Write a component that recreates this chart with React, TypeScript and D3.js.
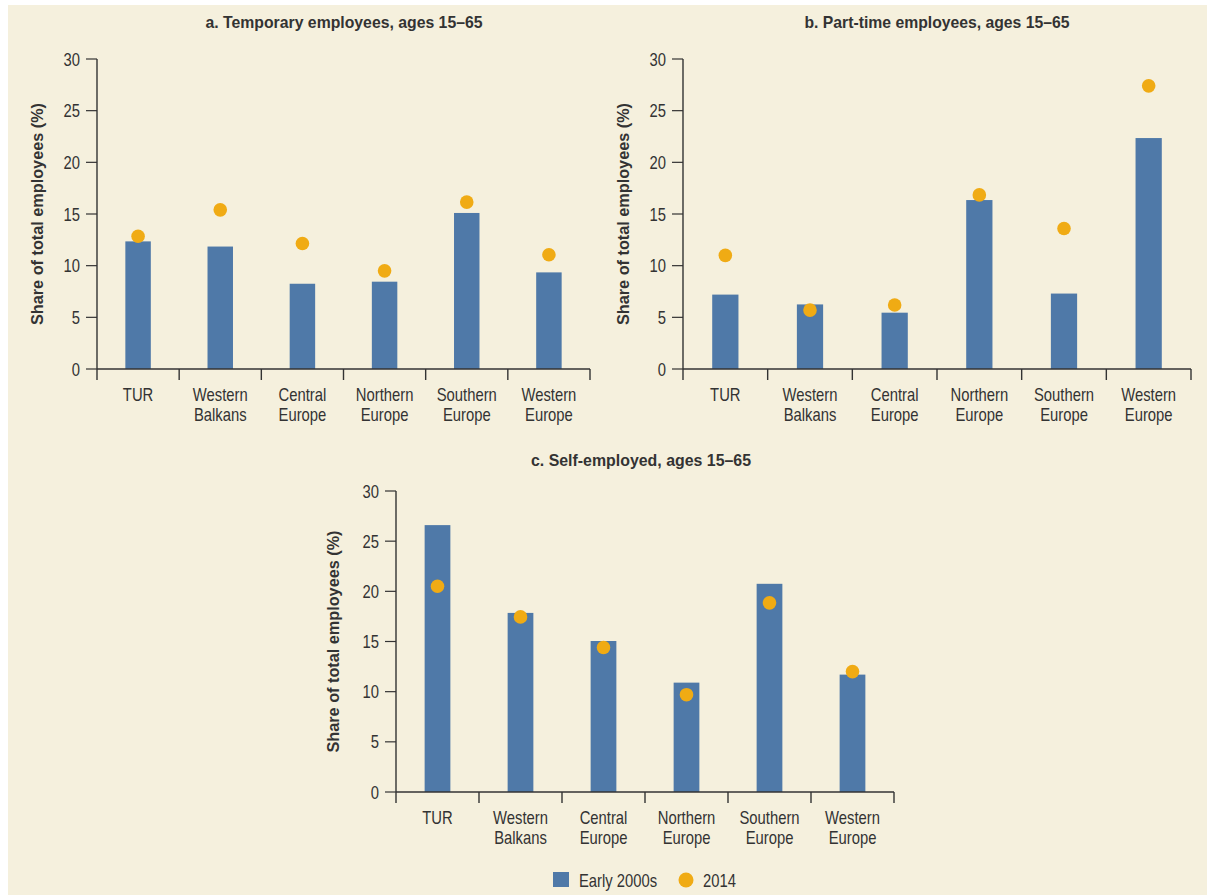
import React from "react";
import * as d3 from "d3";

const categories = [
  ["TUR"],
  ["Western", "Balkans"],
  ["Central", "Europe"],
  ["Northern", "Europe"],
  ["Southern", "Europe"],
  ["Western", "Europe"],
];
const categoryKeys = ["TUR", "Western Balkans", "Central Europe", "Northern Europe", "Southern Europe", "Western Europe"];
const yTicks = [0, 5, 10, 15, 20, 25, 30];

const temporaryEarly = [12.35, 11.85, 8.25, 8.45, 15.1, 9.35];
const temporary2014 = [12.85, 15.4, 12.15, 9.5, 16.15, 11.05];
const partTimeEarly = [7.2, 6.25, 5.45, 16.35, 7.3, 22.35];
const partTime2014 = [11.0, 5.7, 6.2, 16.85, 13.6, 27.4];
const selfEarly = [26.6, 17.85, 15.05, 10.9, 20.75, 11.7];
const self2014 = [20.5, 17.45, 14.4, 9.7, 18.85, 12.0];

const titles = [
  "a. Temporary employees, ages 15\u201365",
  "b. Part-time employees, ages 15\u201365",
  "c. Self-employed, ages 15\u201365",
];
const yLabel = "Share of total employees (%)";
const legendLabels = ["Early 2000s", "2014"];

const BAR = "#4f79a8";
const DOT = "#f0ab14";
const BG = "#f5f0dd";
const INK = "#333333";
const FONT = "'Liberation Sans', Arimo, Arial, sans-serif";
const SX = 0.8;

function NText({ x, y, anchor = "start", size = 18.5, bold = false, sx = SX, children }: any) {
  return (
    <text
      transform={`translate(${x},${y}) scale(${sx},1)`}
      textAnchor={anchor}
      fontFamily={FONT}
      fontWeight={bold ? "bold" : "normal"}
      fontSize={size}
      fill={INK}
    >
      {children}
    </text>
  );
}

type PanelProps = {
  title: string;
  titleW: number;
  early: number[];
  late: number[];
  x0: number;
  x1: number;
  yTop: number;
  yBottom: number;
  titleX: number;
  titleY: number;
  labelX: number;
};

function Panel({ title, titleW, early, late, x0, x1, yTop, yBottom, titleX, titleY, labelX }: PanelProps) {
  const x = d3.scaleBand<string>().domain(categoryKeys).range([x0, x1]).paddingInner(0.69).paddingOuter(0.345);
  const xb = d3.scaleBand<string>().domain(categoryKeys).range([x0, x1]);
  const y = d3.scaleLinear().domain([0, 30]).range([yBottom, yTop]);
  const bw = x.bandwidth();
  return (
    <g>
      <text
        x={titleX - titleW / 2}
        y={titleY}
        textLength={titleW}
        lengthAdjust="spacingAndGlyphs"
        fontFamily={FONT}
        fontWeight="bold"
        fontSize={17}
        fill={INK}
      >
        {title}
      </text>
      <text
        transform={`translate(${labelX},${(yTop + yBottom) / 2}) rotate(-90)`}
        x={-111}
        y={0}
        textLength={222}
        lengthAdjust="spacingAndGlyphs"
        fontFamily={FONT}
        fontWeight="bold"
        fontSize={17}
        fill={INK}
      >
        {yLabel}
      </text>
      {categoryKeys.map((k, i) => (
        <rect key={"b" + k} x={x(k)} y={y(early[i])} width={bw} height={y(0) - y(early[i])} fill={BAR} />
      ))}
      {categoryKeys.map((k, i) => (
        <circle key={"d" + k} cx={(x(k) as number) + bw / 2} cy={y(late[i])} r={6.8} fill={DOT} />
      ))}
      <line x1={x0} x2={x0} y1={yTop} y2={yBottom} stroke={INK} strokeWidth={1.4} />
      <line x1={x0} x2={x1} y1={yBottom} y2={yBottom} stroke={INK} strokeWidth={1.4} />
      {yTicks.map((t) => (
        <g key={"t" + t}>
          <line x1={x0 - 11} x2={x0} y1={y(t)} y2={y(t)} stroke={INK} strokeWidth={1.2} />
          <NText x={x0 - 17} y={y(t) + 6.5} anchor="end">
            {t}
          </NText>
        </g>
      ))}
      {[...categoryKeys.map((k) => xb(k) as number), x1].map((v, i) => (
        <line key={"xt" + i} x1={v} x2={v} y1={yBottom} y2={yBottom + 11} stroke={INK} strokeWidth={1.4} />
      ))}
      {categoryKeys.map((k, i) =>
        categories[i].map((line, j) => (
          <NText key={"l" + k + j} x={(xb(k) as number) + xb.bandwidth() / 2} y={yBottom + 32 + j * 19.5} anchor="middle">
            {line}
          </NText>
        ))
      )}
    </g>
  );
}

export default function App() {
  return (
    <svg width={1207} height={895} style={{ position: "absolute", left: 0, top: 0 }}>
      <rect x={0} y={0} width={1207} height={895} fill="#ffffff" />
      <rect x={8} y={5} width={1199} height={890} fill={BG} />
      <Panel title={titles[0]} titleW={277} early={temporaryEarly} late={temporary2014} x0={97} x1={590} yTop={59} yBottom={369} titleX={344} titleY={28} labelX={43} />
      <Panel title={titles[1]} titleW={265} early={partTimeEarly} late={partTime2014} x0={683} x1={1191} yTop={59} yBottom={369} titleX={937} titleY={28} labelX={629} />
      <Panel title={titles[2]} titleW={220} early={selfEarly} late={self2014} x0={396} x1={894} yTop={491} yBottom={792} titleX={641} titleY={466} labelX={339} />
      <g>
        <rect x={553} y={872} width={16} height={15} fill={BAR} />
        <NText x={579} y={887}>{legendLabels[0]}</NText>
        <circle cx={686} cy={880} r={7.5} fill={DOT} />
        <NText x={703} y={887}>{legendLabels[1]}</NText>
      </g>
    </svg>
  );
}
